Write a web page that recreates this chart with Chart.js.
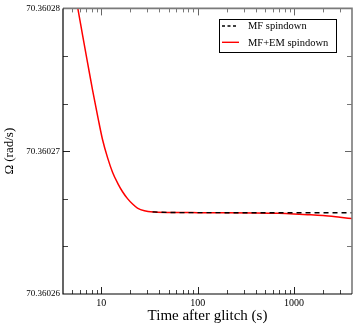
<!DOCTYPE html>
<html>
<head>
<meta charset="utf-8">
<script src="https://cdn.jsdelivr.net/npm/chart.js@4/dist/chart.umd.min.js"></script>
<style>
  body { margin: 0; background: #fff; }
  canvas { display: block; }
</style>
</head>
<body>
<canvas id="omegaChart" width="354" height="326"></canvas>
<script>
// time after glitch (s) and spin frequency (rad/s)
const timeEM = [5.2, 5.7, 6.4, 7.2, 8.1, 9.2, 10.3, 11.6, 13.1, 14.8, 16.6, 18.7, 21.1, 23.7, 28, 36, 51,
  100, 200, 400, 700, 1000, 1500, 2000, 3000, 4000];
const omegaEM = [70.36028145, 70.36028, 70.3602781, 70.36027619, 70.36027429, 70.36027239, 70.3602708, 70.36026955,
  70.36026851, 70.36026775, 70.36026716, 70.36026668, 70.3602663, 70.36026602, 70.36026583, 70.36026574, 70.36026571,
  70.360265698, 70.360265695, 70.36026568, 70.36026565, 70.36026561, 70.36026555, 70.36026549, 70.36026537, 70.36026528];

const timeMF = [34, 51, 100, 200, 400, 700, 1000, 1500, 2000, 3000, 4000];
const omegaMF = [70.36026575, 70.36026571, 70.360265698, 70.360265695, 70.360265695, 70.360265695,
  70.360265695, 70.360265695, 70.360265695, 70.360265695, 70.360265695];

const xTickValues = [10, 100, 1000];
const yTickValues = [70.36026, 70.36027, 70.36028];

const SERIF = "'Liberation Serif', 'DejaVu Serif', serif";

// inward ticks on all four sides, xmgrace style
const frame = {
  id: "frame",
  afterDatasetsDraw(chart) {
    const { ctx, chartArea: a, scales: { x, y } } = chart;
    ctx.save();

    const xMinor = [];
    [1, 10, 100, 1000].forEach(d => {
      for (let m = 2; m <= 9; m++) {
        const v = m * d;
        if (v > x.min && v < x.max) xMinor.push(v);
      }
    });
    const yMinor = [1, 2, 4, 5].map(k => yTickValues[0] + k * (yTickValues[1] - yTickValues[0]) / 3);

    const tickX = (vals, len, color, bottom) => {
      ctx.strokeStyle = color;
      ctx.lineWidth = 1;
      ctx.beginPath();
      vals.forEach(v => {
        const px = Math.round(x.getPixelForValue(v)) + 0.5;
        if (bottom) { ctx.moveTo(px, a.bottom); ctx.lineTo(px, a.bottom - len); }
        else { ctx.moveTo(px, a.top); ctx.lineTo(px, a.top + len); }
      });
      ctx.stroke();
    };
    const tickY = (vals, len, color, left) => {
      ctx.strokeStyle = color;
      ctx.lineWidth = 1;
      ctx.beginPath();
      vals.forEach(v => {
        const py = Math.round(y.getPixelForValue(v)) + 0.5;
        if (left) { ctx.moveTo(a.left, py); ctx.lineTo(a.left + len, py); }
        else { ctx.moveTo(a.right, py); ctx.lineTo(a.right - len, py); }
      });
      ctx.stroke();
    };

    tickX(xTickValues, 7, "#222", true);
    tickX(xMinor, 4, "#444", true);
    tickX(xTickValues, 7, "#666", false);
    tickX(xMinor, 4, "#777", false);
    tickY([yTickValues[1]], 7, "#222", true);
    tickY(yMinor, 5, "#444", true);
    tickY([yTickValues[1]], 7, "#666", false);
    tickY(yMinor, 5, "#777", false);

    // top and right grey, left and bottom black
    ctx.lineWidth = 1.6;
    ctx.strokeStyle = "#7a7a7a";
    ctx.beginPath();
    ctx.moveTo(a.left, a.top);
    ctx.lineTo(a.right, a.top);
    ctx.lineTo(a.right, a.bottom);
    ctx.stroke();
    ctx.lineWidth = 1.2;
    ctx.strokeStyle = "#000";
    ctx.beginPath();
    ctx.moveTo(a.left, a.top);
    ctx.lineTo(a.left, a.bottom);
    ctx.lineTo(a.right, a.bottom);
    ctx.stroke();

    // legend box
    const bx = 219.5, by = 19.5, bw = 117, bh = 33;
    ctx.fillStyle = "#fff";
    ctx.fillRect(bx, by, bw, bh);
    ctx.lineWidth = 1;
    ctx.strokeStyle = "#000";
    ctx.strokeRect(bx, by, bw, bh);
    ctx.font = "10.5px " + SERIF;
    ctx.textBaseline = "middle";
    ctx.fillStyle = "#000";
    chart.data.datasets.forEach((ds, i) => {
      const ly = 26 + i * 16.3;
      ctx.strokeStyle = ds.borderColor;
      ctx.lineWidth = 1.4;
      ctx.setLineDash(ds.borderDash.length ? [3, 2.5] : []);
      ctx.beginPath();
      ctx.moveTo(222, ly);
      ctx.lineTo(ds.borderDash.length ? 236 : 239, ly);
      ctx.stroke();
      ctx.setLineDash([]);
      ctx.fillText(ds.label, 248, ly + 0.5);
    });
    ctx.restore();
  }
};

new Chart(document.getElementById("omegaChart"), {
  type: "scatter",
  data: {
    datasets: [
      {
        label: "MF spindown",
        data: timeMF.map((t, i) => ({ x: t, y: omegaMF[i] })),
        showLine: true,
        borderColor: "#000",
        borderWidth: 1.4,
        borderDash: [5, 4],
        pointRadius: 0,
        cubicInterpolationMode: "monotone",
        order: 0
      },
      {
        label: "MF+EM spindown",
        data: timeEM.map((t, i) => ({ x: t, y: omegaEM[i] })),
        showLine: true,
        borderColor: "#ff0000",
        borderWidth: 1.5,
        borderDash: [],
        pointRadius: 0,
        cubicInterpolationMode: "monotone",
        order: 1
      }
    ]
  },
  plugins: [frame],
  options: {
    responsive: false,
    animation: false,
    layout: { padding: { top: 5, right: 2, left: 0, bottom: 0 } },
    plugins: { legend: { display: false }, tooltip: { enabled: false } },
    scales: {
      x: {
        type: "logarithmic",
        min: 4,
        max: 4000,
        grid: { display: false, drawTicks: false },
        border: { display: false },
        afterBuildTicks: s => { s.ticks = xTickValues.map(v => ({ value: v })); },
        afterFit: s => { s.height = 32; },
        ticks: {
          autoSkip: false,
          maxRotation: 0,
          padding: 3,
          color: "#000",
          font: { family: SERIF, size: 10 },
          callback: v => String(v)
        },
        title: {
          display: true,
          text: "Time after glitch (s)",
          color: "#000",
          font: { family: SERIF, size: 15 },
          padding: { top: 0, bottom: 1 }
        }
      },
      y: {
        min: 70.36026,
        max: 70.36028,
        grid: { display: false, drawTicks: false },
        border: { display: false },
        afterBuildTicks: s => { s.ticks = yTickValues.map(v => ({ value: v })); },
        afterFit: s => { s.width = 63; },
        ticks: {
          autoSkip: false,
          padding: 3,
          color: "#000",
          font: { family: SERIF, size: 9 },
          callback: v => v.toFixed(5)
        },
        title: {
          display: true,
          text: "Ω (rad/s)",
          color: "#000",
          font: { family: SERIF, size: 13 },
          padding: { top: 2, bottom: 0 }
        }
      }
    }
  }
});
</script>
</body>
</html>
